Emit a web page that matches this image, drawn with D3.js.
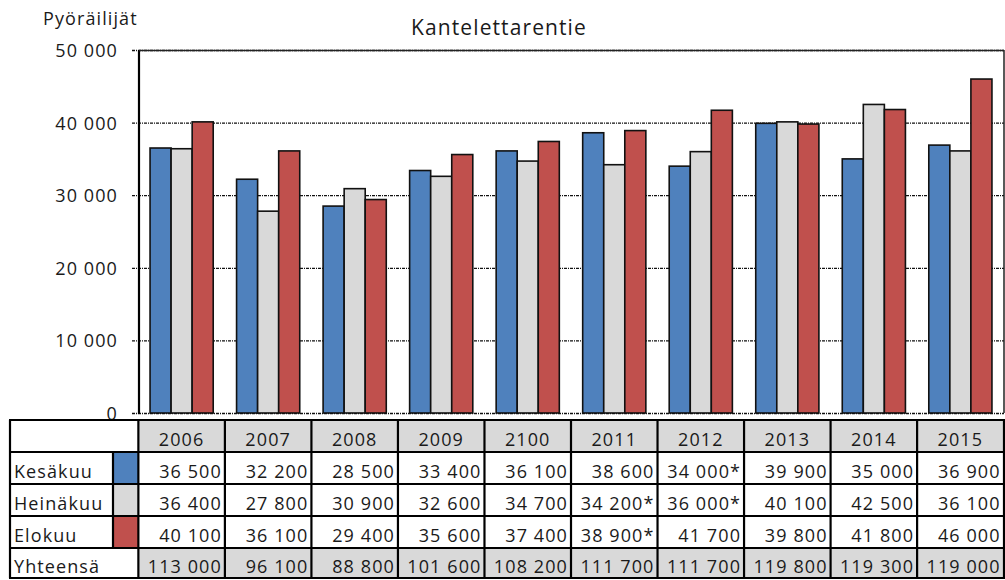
<!DOCTYPE html>
<html>
<head>
<meta charset="utf-8">
<script src="https://cdn.jsdelivr.net/npm/d3@7"></script>
<style>
  body { margin: 0; background: #fff; }
  text { font-family: "Open Sans", sans-serif; fill: #1a1a1a; letter-spacing: 1.1px; }
</style>
</head>
<body>
<div id="holder"></div>
<script>
const w = 1005;
const h = 580;

// DATA
const years = ["2006", "2007", "2008", "2009", "2100", "2011", "2012", "2013", "2014", "2015"];
const seriesNames = ["Kesäkuu", "Heinäkuu", "Elokuu"];
const kesakuu = [36500, 32200, 28500, 33400, 36100, 38600, 34000, 39900, 35000, 36900];
const heinakuu = [36400, 27800, 30900, 32600, 34700, 34200, 36000, 40100, 42500, 36100];
const elokuu = [40100, 36100, 29400, 35600, 37400, 38900, 41700, 39800, 41800, 46000];
const yhteensa = [113000, 96100, 88800, 101600, 108200, 111700, 111700, 119800, 119300, 119000];
// cells marked with an asterisk in the table
const kesakuuStar = ["2012"];
const heinakuuStar = ["2011", "2012"];
const elokuuStar = ["2011"];
const yTicks = [0, 10000, 20000, 30000, 40000, 50000];

const seriesValues = [kesakuu, heinakuu, elokuu];
const seriesStars = [kesakuuStar, heinakuuStar, elokuuStar];
const colors = ["#4f81bd", "#d9d9d9", "#c0504d"];

const fmt = v => d3.format(",")(v).replace(/,/g, " ");

// CREATE SVG
const svg = d3.select("#holder")
    .append("svg")
    .attr("width", w)
    .attr("height", h);

const plot = { left: 139, right: 1004, top: 50, bottom: 413 };

// SCALES
const xScale = d3.scaleBand()
    .domain(years)
    .range([137.5, 1004.5])
    .paddingInner(0.27)
    .paddingOuter(0.145);

const xSub = d3.scaleBand()
    .domain(seriesNames)
    .range([0, xScale.bandwidth()]);

const yScale = d3.scaleLinear()
    .domain([0, 50000])
    .range([plot.bottom, plot.top]);

// GRIDLINES
svg.append("g")
    .selectAll("line")
    .data(yTicks)
    .enter()
    .append("line")
    .attr("x1", 132)
    .attr("x2", plot.right)
    .attr("y1", d => yScale(d) + 0.5)
    .attr("y2", d => yScale(d) + 0.5)
    .attr("stroke", "#111")
    .attr("stroke-width", 1.3)
    .attr("stroke-dasharray", "3,1,1,1");

// Y AXIS LABELS
svg.append("g")
    .selectAll("text")
    .data(yTicks)
    .enter()
    .append("text")
    .attr("x", 118)
    .attr("y", d => yScale(d) + 7)
    .attr("text-anchor", "end")
    .attr("font-size", 18)
    .text(d => fmt(d));

// BARS
const groups = svg.append("g")
    .selectAll("g")
    .data(years)
    .enter()
    .append("g")
    .attr("transform", d => "translate(" + xScale(d) + ",0)");

groups.selectAll("rect")
    .data((d, i) => seriesNames.map((s, j) => ({ s: s, j: j, v: seriesValues[j][i] })))
    .enter()
    .append("rect")
    .attr("x", d => xSub(d.s))
    .attr("y", d => yScale(d.v))
    .attr("width", xSub.bandwidth())
    .attr("height", d => plot.bottom - yScale(d.v))
    .attr("fill", d => colors[d.j])
    .attr("stroke", "#111")
    .attr("stroke-width", 1.6);

// FRAME
svg.append("line")
    .attr("x1", plot.left).attr("x2", plot.left)
    .attr("y1", plot.top).attr("y2", plot.bottom + 1)
    .attr("stroke", "#000").attr("stroke-width", 2.2);
svg.append("line")
    .attr("x1", plot.right).attr("x2", plot.right)
    .attr("y1", plot.top).attr("y2", plot.bottom)
    .attr("stroke", "#222").attr("stroke-width", 1.5);
svg.append("line")
    .attr("x1", plot.left).attr("x2", plot.right)
    .attr("y1", plot.top + 0.5).attr("y2", plot.top + 0.5)
    .attr("stroke", "#222").attr("stroke-width", 1.6);

// TITLES
svg.append("text")
    .attr("x", 43)
    .attr("y", 25)
    .attr("font-size", 18)
    .text("Pyöräilijät");

svg.append("text")
    .attr("x", 499)
    .attr("y", 35)
    .attr("text-anchor", "middle")
    .attr("font-size", 21)
    .text("Kantelettarentie");

// TABLE
const rowTop = [420, 452, 484, 516, 548];
const rowH = 32;
const tableLeft = 10;
const labelRight = 113;
const cells = svg.append("g");

years.forEach((y, i) => {
    const x0 = xScale(y) - xScale.step() * xScale.paddingInner() / 2;
    const x1 = x0 + xScale.step();
    // header
    cells.append("rect")
        .attr("x", x0).attr("y", rowTop[0])
        .attr("width", x1 - x0).attr("height", rowH)
        .attr("fill", "#d9d9d9");
    cells.append("text")
        .attr("x", (x0 + x1) / 2).attr("y", rowTop[0] + 26)
        .attr("text-anchor", "middle").attr("font-size", 18)
        .text(y);
    // series rows
    seriesValues.forEach((vals, j) => {
        const star = seriesStars[j].includes(y) ? "*" : "";
        cells.append("text")
            .attr("x", x1 - 3).attr("y", rowTop[j + 1] + 26)
            .attr("text-anchor", "end").attr("font-size", 18)
            .text(fmt(vals[i]) + star);
    });
    // total
    cells.append("rect")
        .attr("x", x0).attr("y", rowTop[4])
        .attr("width", x1 - x0).attr("height", 31)
        .attr("fill", "#d9d9d9");
    cells.append("text")
        .attr("x", x1 - 3).attr("y", rowTop[4] + 25)
        .attr("text-anchor", "end").attr("font-size", 18)
        .text(fmt(yhteensa[i]));
});

const firstCol = xScale(years[0]) - xScale.step() * xScale.paddingInner() / 2;

// legend swatches and row labels
seriesNames.forEach((s, j) => {
    cells.append("rect")
        .attr("x", labelRight).attr("y", rowTop[j + 1])
        .attr("width", firstCol - labelRight).attr("height", rowH)
        .attr("fill", colors[j]);
    cells.append("text")
        .attr("x", 14).attr("y", rowTop[j + 1] + 26)
        .attr("font-size", 18)
        .text(s);
});
cells.append("text")
    .attr("x", 14).attr("y", rowTop[4] + 25)
    .attr("font-size", 18)
    .text("Yhteensä");

// table lines
const tableBottom = 578;
const lines = svg.append("g")
    .attr("stroke", "#000")
    .attr("stroke-width", 2.2);

rowTop.concat([tableBottom]).forEach(y => {
    lines.append("line")
        .attr("x1", tableLeft - 1).attr("x2", w)
        .attr("y1", y).attr("y2", y);
});
lines.append("line")
    .attr("x1", tableLeft).attr("x2", tableLeft)
    .attr("y1", rowTop[0]).attr("y2", tableBottom);
lines.append("line")
    .attr("x1", labelRight).attr("x2", labelRight)
    .attr("y1", rowTop[1]).attr("y2", rowTop[4]);
years.forEach(y => {
    const x0 = xScale(y) - xScale.step() * xScale.paddingInner() / 2;
    lines.append("line")
        .attr("x1", x0).attr("x2", x0)
        .attr("y1", rowTop[0]).attr("y2", tableBottom);
});
lines.append("line")
    .attr("x1", w - 1).attr("x2", w - 1)
    .attr("y1", rowTop[0]).attr("y2", tableBottom);
</script>
</body>
</html>
